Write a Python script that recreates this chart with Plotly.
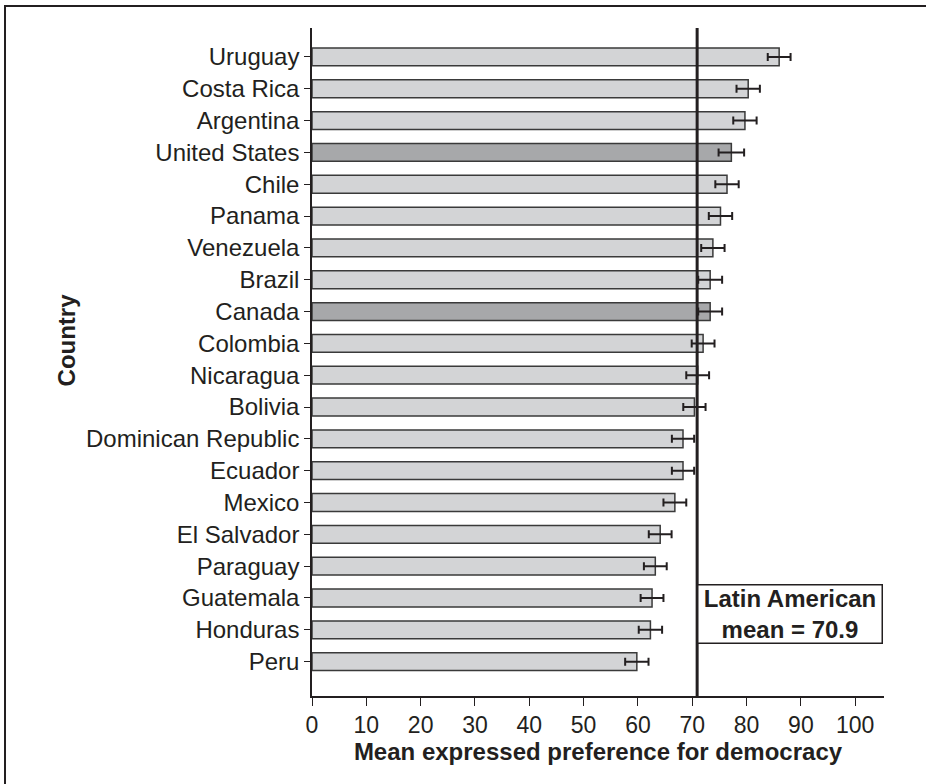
import plotly.graph_objects as go

countries = ["Uruguay", "Costa Rica", "Argentina", "United States", "Chile", "Panama",
             "Venezuela", "Brazil", "Canada", "Colombia", "Nicaragua", "Bolivia",
             "Dominican Republic", "Ecuador", "Mexico", "El Salvador", "Paraguay",
             "Guatemala", "Honduras", "Peru"]
means = [86.0, 80.3, 79.7, 77.2, 76.4, 75.2, 73.8, 73.3, 73.3, 72.0, 71.0, 70.4,
         68.3, 68.3, 66.8, 64.1, 63.2, 62.6, 62.3, 59.8]
errors = [2.1, 2.15, 2.15, 2.35, 2.15, 2.15, 2.15, 2.2, 2.2, 2.1, 2.1, 2.05,
          2.05, 2.05, 2.1, 2.1, 2.1, 2.1, 2.15, 2.15]
non_latin = ["United States", "Canada"]
latin_mean = 70.9

INK = "#231f20"
FONT = "Liberation Sans, Arial, Helvetica, sans-serif"

colors = ["#a7a8aa" if c in non_latin else "#d3d4d6" for c in countries]

fig = go.Figure()
fig.add_trace(go.Bar(
    x=means, y=countries, orientation="h",
    marker=dict(color=colors, line=dict(color="#3a3a3a", width=1.5)),
    width=0.56,
    error_x=dict(type="data", array=errors, visible=True, color=INK,
                 thickness=2, width=4),
    showlegend=False,
))

# mean line
fig.add_shape(type="line", xref="x", yref="paper", x0=latin_mean, x1=latin_mean,
              y0=0, y1=1, line=dict(color=INK, width=3), layer="above")

# outer frame
fig.add_shape(type="rect", xref="paper", yref="paper",
              x0=-0.5367, x1=2.0, y0=-2.0, y1=1.0329,
              line=dict(color=INK, width=2), fillcolor="rgba(0,0,0,0)", layer="below")

fig.add_annotation(
    xref="x", yref="paper", x=latin_mean, y=0.1235, xanchor="left", yanchor="middle",
    text="Latin American<br>mean = 70.9", showarrow=False, align="center",
    font=dict(family=FONT, size=24, color=INK, weight="bold"),
    bordercolor=INK, borderwidth=1.5, borderpad=0, bgcolor="white",
    width=183, height=57,
)

# y-axis title placed as annotation
fig.add_annotation(
    xref="paper", yref="paper", x=-0.4292, y=0.533, xanchor="center", yanchor="middle",
    text="Country", textangle=-90, showarrow=False,
    font=dict(family=FONT, size=24, color=INK, weight="bold"),
)

fig.update_layout(
    width=926, height=784,
    margin=dict(l=312, r=42, t=28, b=88),
    paper_bgcolor="white", plot_bgcolor="white",
    font=dict(family=FONT, color=INK),
    xaxis=dict(
        range=[0, 105.3], tickvals=list(range(0, 101, 10)),
        showgrid=False, zeroline=False, showline=True, linecolor=INK, linewidth=1.5,
        ticks="outside", ticklen=8, tickwidth=1, tickcolor=INK,
        tickfont=dict(size=23, family=FONT, color=INK),
        title=dict(text="Mean expressed preference for democracy",
                   font=dict(size=24, family=FONT, color=INK, weight="bold"),
                   standoff=4),
    ),
    yaxis=dict(
        type="category", categoryorder="array", categoryarray=list(reversed(countries)),
        range=[-1.08, 19.91],
        showgrid=False, zeroline=False, showline=True, linecolor=INK, linewidth=1.5,
        ticks="outside", ticklen=6, tickwidth=1, tickcolor=INK,
        tickfont=dict(size=24, family=FONT, color=INK),
    ),
)

fig.write_html("out.html")
